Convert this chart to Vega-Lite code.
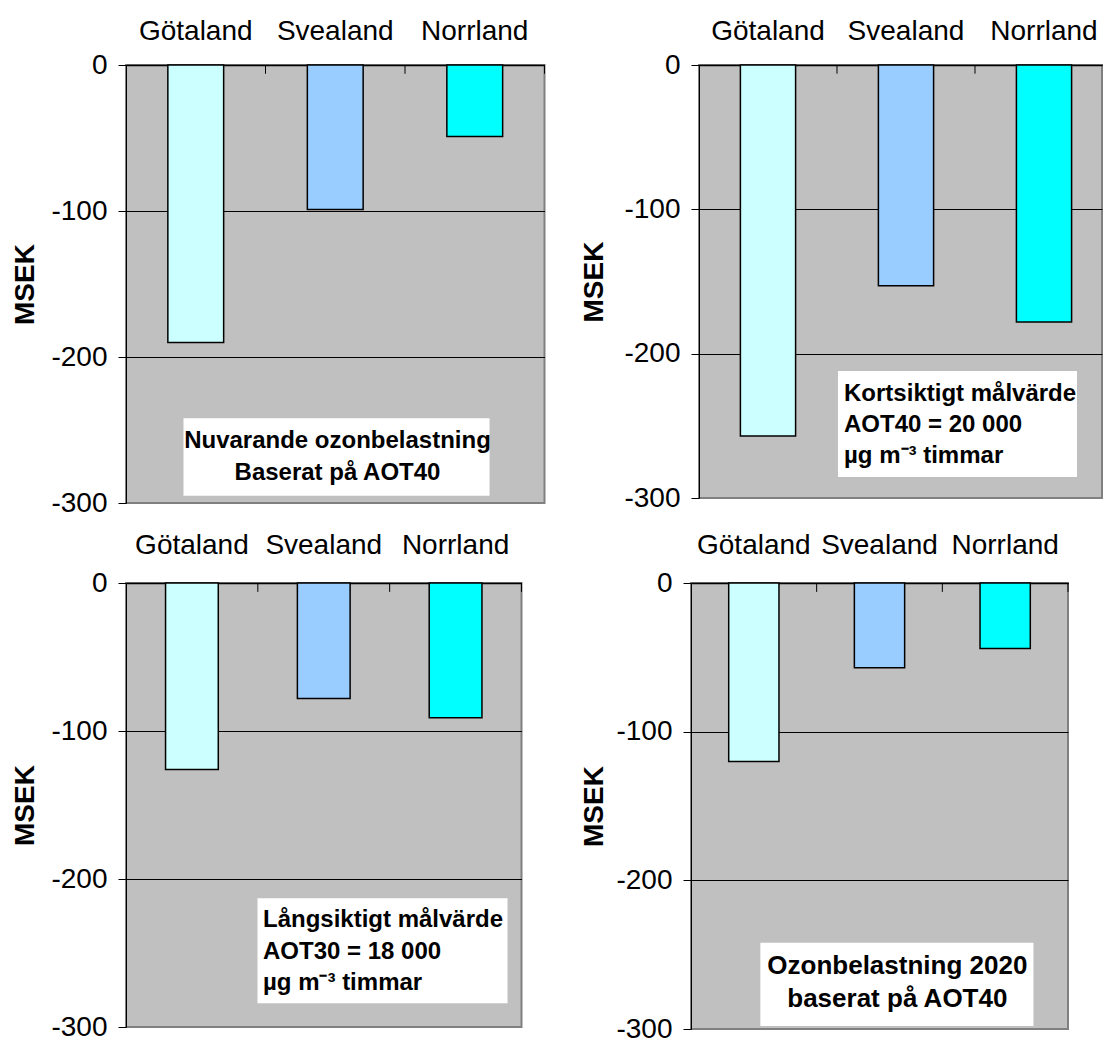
{
  "$schema": "https://vega.github.io/schema/vega-lite/v6.json",
  "padding": {"left": 10, "top": 16, "right": 0, "bottom": 0},
  "background": "white",
  "config": {
    "font": "Liberation Sans",
    "view": {"fill": "#C0C0C0", "stroke": "#808080", "strokeWidth": 2}
  },
  "columns": 2,
  "align": {"row": "each", "column": "none"},
  "spacing": {"row": 12, "column": 33},
  "concat": [
    {
      "width": 418.5, "height": 438,
      "resolve": {"scale": {"x": "independent"}},
      "layer": [
        {
          "data": {"values": [{"region": "Götaland", "msek": -190}, {"region": "Svealand", "msek": -99}, {"region": "Norrland", "msek": -49}]},
          "mark": {"type": "bar", "stroke": "black", "strokeWidth": 1.5},
          "encoding": {
            "x": {"field": "region", "type": "nominal", "sort": ["Götaland", "Svealand", "Norrland"],
              "scale": {"paddingInner": 0.6, "paddingOuter": 0.3},
              "axis": {"orient": "top", "title": null, "ticks": false, "tickSize": 0, "labelAngle": 0, "labelFontSize": 28, "labelColor": "black", "labelBaseline": "alphabetic", "labelPadding": 26, "domainColor": "black", "domainWidth": 1.5, "grid": false}},
            "y": {"field": "msek", "type": "quantitative", "scale": {"domain": [-300, 0], "nice": false, "zero": false},
              "axis": {"values": [0, -100, -200, -300], "labelExpr": "'' + datum.value", "title": "MSEK", "titleFontSize": 28, "titleFontWeight": "bold", "titleColor": "black", "titleX": -100.5, "titleBaseline": "middle", "titleAngle": -90, "labelFontSize": 28, "labelColor": "black", "labelPadding": 11, "tickSize": 8, "tickColor": "black", "domainColor": "black", "grid": true, "gridColor": {"condition": {"test": "datum.value === -300", "value": "#808080"}, "value": "black"}, "gridWidth": 1}},
            "color": {"field": "region", "type": "nominal", "scale": {"domain": ["Götaland", "Svealand", "Norrland"], "range": ["#CCFFFF", "#99CCFF", "#00FFFF"]}, "legend": null}
          }
        },
        {
          "data": {"values": [{"box": "note"}]},
          "mark": {"type": "rect", "fill": "white"},
          "encoding": {
            "x": {"datum": 0.412, "type": "quantitative", "scale": {"domain": [0, 3], "nice": false, "zero": false}, "axis": null},
            "x2": {"datum": 2.606},
            "y": {"datum": -242}, "y2": {"datum": -295}
          }
        },
        {
          "data": {"values": [{"note": "Nuvarande ozonbelastning\nBaserat på AOT40"}]},
          "mark": {"type": "text", "lineBreak": "\n", "fontSize": 24, "fontWeight": "bold", "align": "center", "baseline": "top", "lineHeight": 31.7, "color": "black"},
          "encoding": {
            "x": {"datum": 1.516, "type": "quantitative", "scale": {"domain": [0, 3], "nice": false, "zero": false}, "axis": null},
            "y": {"datum": -249.3},
            "text": {"field": "note"}
          }
        },
        {
          "data": {"values": [{"b": 1}, {"b": 2}, {"b": 3}]},
          "mark": {"type": "rule", "color": "black", "strokeWidth": 1},
          "encoding": {
            "x": {"field": "b", "type": "quantitative", "scale": {"domain": [0, 3], "nice": false, "zero": false}, "axis": null},
            "y": {"datum": 0}, "y2": {"datum": -6}
          }
        }
      ]
    },
    {
      "width": 403, "height": 433,
      "resolve": {"scale": {"x": "independent"}},
      "layer": [
        {
          "data": {"values": [{"region": "Götaland", "msek": -257}, {"region": "Svealand", "msek": -153}, {"region": "Norrland", "msek": -178}]},
          "mark": {"type": "bar", "stroke": "black", "strokeWidth": 1.5},
          "encoding": {
            "x": {"field": "region", "type": "nominal", "sort": ["Götaland", "Svealand", "Norrland"],
              "scale": {"paddingInner": 0.6, "paddingOuter": 0.2601, "align": 0.5766},
              "axis": {"orient": "top", "title": null, "ticks": false, "tickSize": 0, "labelAngle": 0, "labelFontSize": 28, "labelColor": "black", "labelBaseline": "alphabetic", "labelPadding": 26, "domainColor": "black", "domainWidth": 1.5, "grid": false}},
            "y": {"field": "msek", "type": "quantitative", "scale": {"domain": [-300, 0], "nice": false, "zero": false},
              "axis": {"values": [0, -100, -200, -300], "labelExpr": "'' + datum.value", "title": "MSEK", "titleFontSize": 28, "titleFontWeight": "bold", "titleColor": "black", "titleX": -105, "titleBaseline": "middle", "titleAngle": -90, "labelFontSize": 28, "labelColor": "black", "labelPadding": 11, "tickSize": 8, "tickColor": "black", "domainColor": "black", "grid": true, "gridColor": {"condition": {"test": "datum.value === -300", "value": "#808080"}, "value": "black"}, "gridWidth": 1}},
            "color": {"field": "region", "type": "nominal", "scale": {"domain": ["Götaland", "Svealand", "Norrland"], "range": ["#CCFFFF", "#99CCFF", "#00FFFF"]}, "legend": null}
          }
        },
        {
          "data": {"values": [{"box": "note"}]},
          "mark": {"type": "rect", "fill": "white"},
          "encoding": {
            "x": {"datum": 1.007, "type": "quantitative", "scale": {"domain": [0, 2.9203], "nice": false, "zero": false}, "axis": null},
            "x2": {"datum": 2.739},
            "y": {"datum": -212}, "y2": {"datum": -285.5}
          }
        },
        {
          "data": {"values": [{"note": "Kortsiktigt målvärde\nAOT40 = 20 000\nµg m⁻³ timmar"}]},
          "mark": {"type": "text", "lineBreak": "\n", "fontSize": 24, "fontWeight": "bold", "align": "left", "baseline": "top", "lineHeight": 31, "color": "black"},
          "encoding": {
            "x": {"datum": 1.051, "type": "quantitative", "scale": {"domain": [0, 2.9203], "nice": false, "zero": false}, "axis": null},
            "y": {"datum": -219.6},
            "text": {"field": "note"}
          }
        },
        {
          "data": {"values": [{"b": 1}, {"b": 2}]},
          "mark": {"type": "rule", "color": "black", "strokeWidth": 1},
          "encoding": {
            "x": {"field": "b", "type": "quantitative", "scale": {"domain": [0, 2.9203], "nice": false, "zero": false}, "axis": null},
            "y": {"datum": 0}, "y2": {"datum": -6}
          }
        }
      ]
    },
    {
      "width": 395.5, "height": 444,
      "resolve": {"scale": {"x": "independent"}},
      "layer": [
        {
          "data": {"values": [{"region": "Götaland", "msek": -126}, {"region": "Svealand", "msek": -78}, {"region": "Norrland", "msek": -91}]},
          "mark": {"type": "bar", "stroke": "black", "strokeWidth": 1.5},
          "encoding": {
            "x": {"field": "region", "type": "nominal", "sort": ["Götaland", "Svealand", "Norrland"],
              "scale": {"paddingInner": 0.6, "paddingOuter": 0.3},
              "axis": {"orient": "top", "title": null, "ticks": false, "tickSize": 0, "labelAngle": 0, "labelFontSize": 28, "labelColor": "black", "labelBaseline": "alphabetic", "labelPadding": 30, "domainColor": "black", "domainWidth": 1.5, "grid": false}},
            "y": {"field": "msek", "type": "quantitative", "scale": {"domain": [-300, 0], "nice": false, "zero": false},
              "axis": {"values": [0, -100, -200, -300], "labelExpr": "'' + datum.value", "title": "MSEK", "titleFontSize": 28, "titleFontWeight": "bold", "titleColor": "black", "titleX": -100.5, "titleBaseline": "middle", "titleAngle": -90, "labelFontSize": 28, "labelColor": "black", "labelPadding": 11, "tickSize": 8, "tickColor": "black", "domainColor": "black", "grid": true, "gridColor": {"condition": {"test": "datum.value === -300", "value": "#808080"}, "value": "black"}, "gridWidth": 1}},
            "color": {"field": "region", "type": "nominal", "scale": {"domain": ["Götaland", "Svealand", "Norrland"], "range": ["#CCFFFF", "#99CCFF", "#00FFFF"]}, "legend": null}
          }
        },
        {
          "data": {"values": [{"box": "note"}]},
          "mark": {"type": "rect", "fill": "white"},
          "encoding": {
            "x": {"datum": 0.9975, "type": "quantitative", "scale": {"domain": [0, 3], "nice": false, "zero": false}, "axis": null},
            "x2": {"datum": 2.894},
            "y": {"datum": -213}, "y2": {"datum": -284}
          }
        },
        {
          "data": {"values": [{"note": "Långsiktigt målvärde\nAOT30 = 18 000\nµg m⁻³ timmar"}]},
          "mark": {"type": "text", "lineBreak": "\n", "fontSize": 24, "fontWeight": "bold", "align": "left", "baseline": "top", "lineHeight": 31.5, "color": "black"},
          "encoding": {
            "x": {"datum": 1.039, "type": "quantitative", "scale": {"domain": [0, 3], "nice": false, "zero": false}, "axis": null},
            "y": {"datum": -219.6},
            "text": {"field": "note"}
          }
        },
        {
          "data": {"values": [{"b": 1}, {"b": 2}, {"b": 3}]},
          "mark": {"type": "rule", "color": "black", "strokeWidth": 1},
          "encoding": {
            "x": {"field": "b", "type": "quantitative", "scale": {"domain": [0, 3], "nice": false, "zero": false}, "axis": null},
            "y": {"datum": 0}, "y2": {"datum": -6}
          }
        }
      ]
    },
    {
      "width": 377, "height": 446,
      "resolve": {"scale": {"x": "independent"}},
      "layer": [
        {
          "data": {"values": [{"region": "Götaland", "msek": -120}, {"region": "Svealand", "msek": -57}, {"region": "Norrland", "msek": -44}]},
          "mark": {"type": "bar", "stroke": "black", "strokeWidth": 1.5},
          "encoding": {
            "x": {"field": "region", "type": "nominal", "sort": ["Götaland", "Svealand", "Norrland"],
              "scale": {"paddingInner": 0.6, "paddingOuter": 0.3},
              "axis": {"orient": "top", "title": null, "ticks": false, "tickSize": 0, "labelAngle": 0, "labelFontSize": 28, "labelColor": "black", "labelBaseline": "alphabetic", "labelPadding": 30, "domainColor": "black", "domainWidth": 1.5, "grid": false}},
            "y": {"field": "msek", "type": "quantitative", "scale": {"domain": [-300, 0], "nice": false, "zero": false},
              "axis": {"values": [0, -100, -200, -300], "labelExpr": "'' + datum.value", "title": "MSEK", "titleFontSize": 28, "titleFontWeight": "bold", "titleColor": "black", "titleX": -96.6, "titleBaseline": "middle", "titleAngle": -90, "labelFontSize": 28, "labelColor": "black", "labelPadding": 11, "tickSize": 8, "tickColor": "black", "domainColor": "black", "grid": true, "gridColor": {"condition": {"test": "datum.value === -300", "value": "#808080"}, "value": "black"}, "gridWidth": 1}},
            "color": {"field": "region", "type": "nominal", "scale": {"domain": ["Götaland", "Svealand", "Norrland"], "range": ["#CCFFFF", "#99CCFF", "#00FFFF"]}, "legend": null}
          }
        },
        {
          "data": {"values": [{"box": "note"}]},
          "mark": {"type": "rect", "fill": "white"},
          "encoding": {
            "x": {"datum": 0.552, "type": "quantitative", "scale": {"domain": [0, 3], "nice": false, "zero": false}, "axis": null},
            "x2": {"datum": 2.725},
            "y": {"datum": -242}, "y2": {"datum": -298}
          }
        },
        {
          "data": {"values": [{"note": "Ozonbelastning 2020\nbaserat på AOT40"}]},
          "mark": {"type": "text", "lineBreak": "\n", "fontSize": 26, "fontWeight": "bold", "align": "center", "baseline": "top", "lineHeight": 33, "color": "black"},
          "encoding": {
            "x": {"datum": 1.642, "type": "quantitative", "scale": {"domain": [0, 3], "nice": false, "zero": false}, "axis": null},
            "y": {"datum": -249},
            "text": {"field": "note"}
          }
        },
        {
          "data": {"values": [{"b": 1}, {"b": 2}, {"b": 3}]},
          "mark": {"type": "rule", "color": "black", "strokeWidth": 1},
          "encoding": {
            "x": {"field": "b", "type": "quantitative", "scale": {"domain": [0, 3], "nice": false, "zero": false}, "axis": null},
            "y": {"datum": 0}, "y2": {"datum": -6}
          }
        }
      ]
    }
  ]
}
